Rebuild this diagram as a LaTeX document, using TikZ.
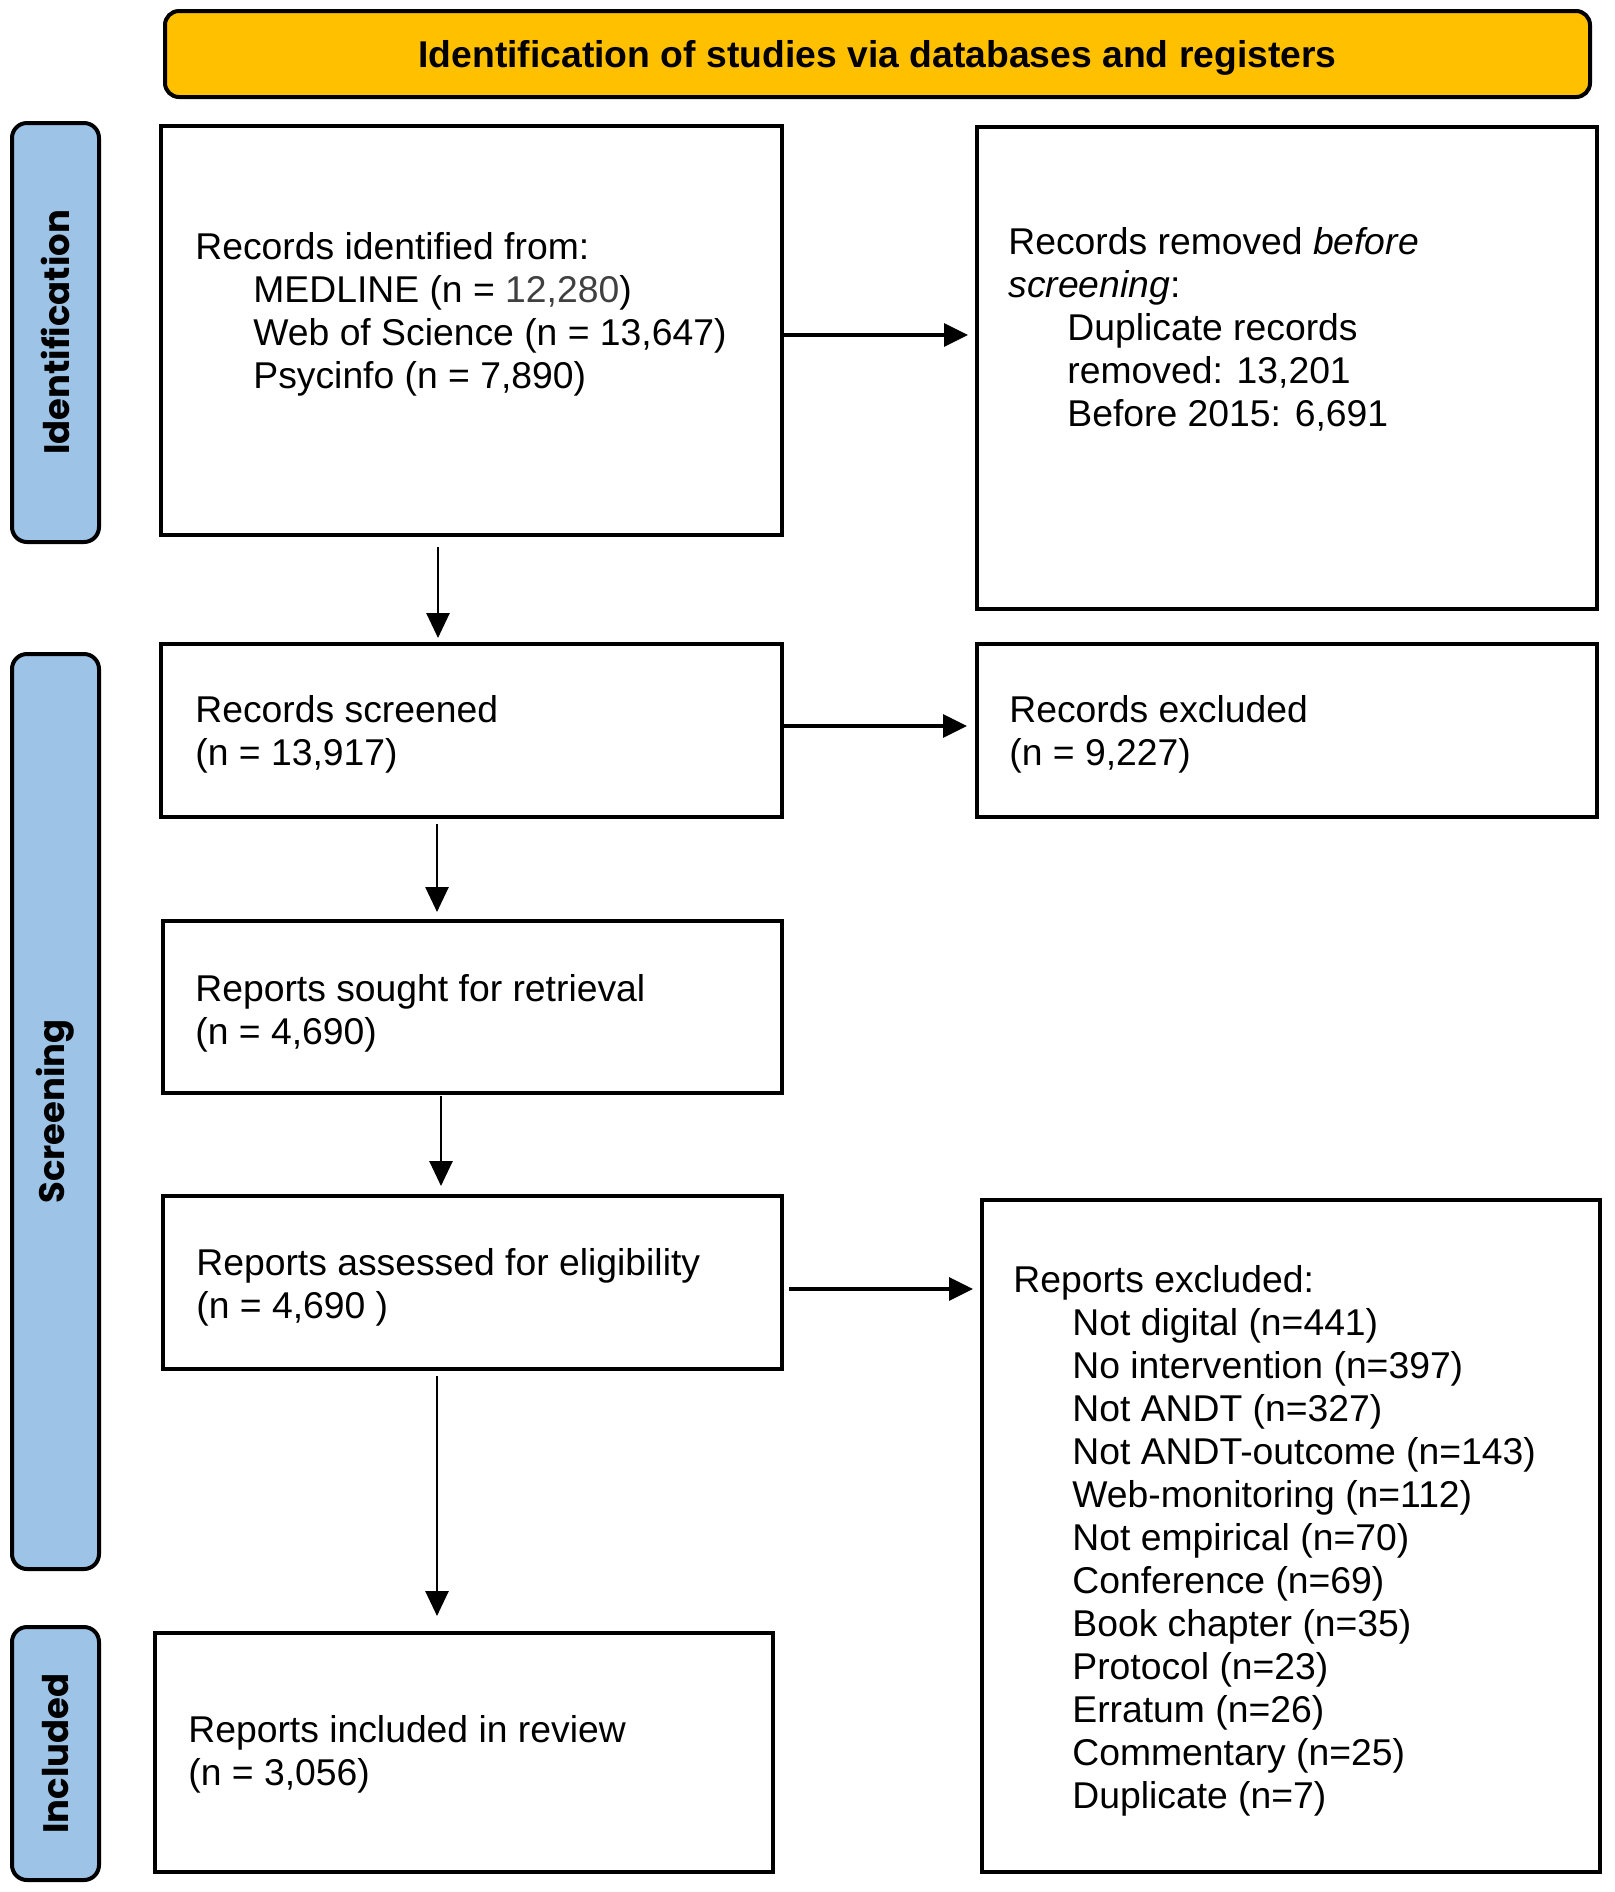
\documentclass[tikz,border=0pt]{standalone}
\usepackage{fontspec}
\setmainfont{Liberation Sans}
\newfontfamily\barfont{Poppins}
\usetikzlibrary{arrows.meta,fit}
\definecolor{hdr}{HTML}{FFC000}
\definecolor{barblue}{HTML}{9DC3E6}
\definecolor{numgray}{HTML}{404040}
\begin{document}
\begin{tikzpicture}[x=0.5pt,y=-0.5pt,
  box/.style={draw, line width=1.8pt, inner sep=0pt, outer sep=0pt},
  header/.style={draw, line width=2pt, fill=hdr, rounded corners=7pt, inner sep=0pt, outer sep=0pt},
  sidebar/.style={draw, line width=2pt, fill=barblue, rounded corners=7.5pt, inner sep=0pt, outer sep=0pt},
  txt/.style={align=left, inner sep=0pt, anchor=base west, font=\fontsize{18.65pt}{21.5pt}\selectfont},
  hdrtxt/.style={font=\fontsize{18.65pt}{21.5pt}\selectfont\bfseries, inner sep=0pt},
  bartxt/.style={rotate=90, font=\barfont\bfseries\fontsize{17.7pt}{21.5pt}\selectfont, inner sep=0pt},
  varrow/.style={line width=1.35pt, -{Triangle[length=12.5pt,width=11.5pt]}},
  harrow/.style={line width=1.65pt, -{Triangle[length=12pt,width=11.5pt]}}
]
\useasboundingbox (0,0) rectangle (1614,1892);

% header
\node[header, fit={(165,11) (1590,97)}] (hd) {};
\node[hdrtxt, yshift=-1.8pt] (hdt) at (hd.center) {Identification of studies via databases and registers};

% side bars
\node[sidebar, fit={(12,123) (99,542)}] (idbar) {};
\node[sidebar, fit={(12,654) (99,1569)}] (scbar) {};
\node[sidebar, fit={(12,1627) (99,1880)}] (inbar) {};
\node[bartxt] (idt) at (idbar.center) {Identification};
\node[bartxt] (sct) at (scbar.center) {Screening};
\node[bartxt] (int) at (inbar.center) {Included};

% boxes
\node[box, fit={(161,126) (782,535)}] (b1) {};
\node[box, fit={(977,127) (1597,609)}] (b2) {};
\node[box, fit={(161,644) (782,817)}] (b3) {};
\node[box, fit={(977,644) (1597,817)}] (b4) {};
\node[box, fit={(163,921) (782,1093)}] (b5) {};
\node[box, fit={(163,1196) (782,1369)}] (b6) {};
\node[box, fit={(982,1200) (1600,1872)}] (b7) {};
\node[box, fit={(155,1633) (773,1872)}] (b8) {};

% texts (anchored at the baseline of the last line)
\node[txt] (t1) at (195,388) {Records identified from:\\
  \hspace*{29pt}MEDLINE (n = {\color{numgray}12,280})\\
  \hspace*{29pt}Web of Science (n = 13,647)\\
  \hspace*{29pt}Psycinfo (n = 7,890)};
\node[txt] (t2) at (1008,426) {Records removed \textit{before}\\
  \textit{screening}:\\
  \hspace*{29.5pt}Duplicate records\\
  \hspace*{29.5pt}removed: 13,201\\
  \hspace*{29.5pt}Before 2015: 6,691};
\node[txt] (t3) at (195,765) {Records screened\\(n = 13,917)};
\node[txt] (t4) at (1009,765) {Records excluded\\(n = 9,227)};
\node[txt] (t5) at (195,1044) {Reports sought for retrieval\\(n = 4,690)};
\node[txt] (t6) at (196,1318) {Reports assessed for eligibility\\(n = 4,690 )};
\node[txt] (t7) at (1013,1808) {Reports excluded:\\
  \hspace*{29.5pt}Not digital (n=441)\\
  \hspace*{29.5pt}No intervention (n=397)\\
  \hspace*{29.5pt}Not ANDT (n=327)\\
  \hspace*{29.5pt}Not ANDT-outcome (n=143)\\
  \hspace*{29.5pt}Web-monitoring (n=112)\\
  \hspace*{29.5pt}Not empirical (n=70)\\
  \hspace*{29.5pt}Conference (n=69)\\
  \hspace*{29.5pt}Book chapter (n=35)\\
  \hspace*{29.5pt}Protocol (n=23)\\
  \hspace*{29.5pt}Erratum (n=26)\\
  \hspace*{29.5pt}Commentary (n=25)\\
  \hspace*{29.5pt}Duplicate (n=7)};
\node[txt] (t8) at (188,1785) {Reports included in review\\(n = 3,056)};

% connector guides
\coordinate (xa) at (438,0);
\coordinate (xb) at (437,0);
\coordinate (xc) at (441,0);
\coordinate (ya) at (0,335);
\coordinate (yb) at (0,726);
\coordinate (yc) at (0,1289);

% vertical arrows
\draw[varrow, shorten <=6pt, shorten >=3pt] (xa |- b1.south) -- (xa |- b3.north);
\draw[varrow, shorten <=3.5pt, shorten >=4.5pt] (xb |- b3.south) -- (xb |- b5.north);
\draw[varrow, shorten <=1.5pt, shorten >=5pt] (xc |- b5.south) -- (xc |- b6.north);
\draw[varrow, shorten <=3.5pt, shorten >=8.5pt] (xb |- b6.south) -- (xb |- b8.north);

% horizontal arrows
\draw[harrow, shorten <=0.5pt, shorten >=4.5pt] (b1.east |- ya) -- (b2.west |- ya);
\draw[harrow, shorten <=0.5pt, shorten >=5pt] (b3.east |- yb) -- (b4.west |- yb);
\draw[harrow, shorten <=3.5pt, shorten >=4.5pt] (b6.east |- yc) -- (b7.west |- yc);
\end{tikzpicture}
\end{document}
